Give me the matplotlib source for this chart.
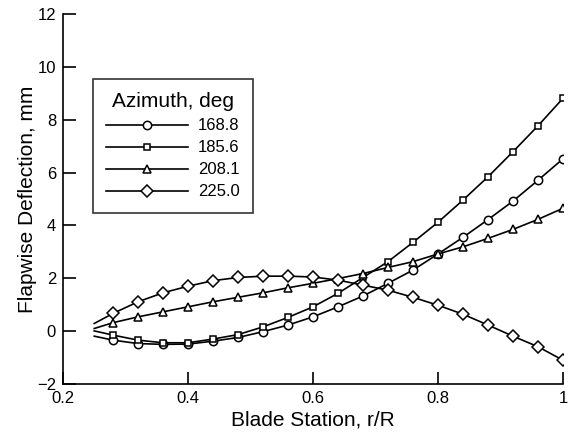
import matplotlib
matplotlib.use("Agg")
import matplotlib.pyplot as plt

plt.rcParams['font.family'] = ['Liberation Sans', 'DejaVu Sans']

# blade station r/R (first point has no marker)
r = [0.25, 0.28, 0.32, 0.36, 0.40, 0.44, 0.48, 0.52, 0.56, 0.60,
     0.64, 0.68, 0.72, 0.76, 0.80, 0.84, 0.88, 0.92, 0.96, 1.00]

# flapwise deflection, mm
az_168 = [-0.19, -0.34, -0.47, -0.50, -0.49, -0.38, -0.24, -0.02, 0.23, 0.54,
          0.92, 1.33, 1.81, 2.31, 2.92, 3.55, 4.22, 4.92, 5.71, 6.52]
az_185 = [0.01, -0.15, -0.34, -0.44, -0.44, -0.30, -0.13, 0.16, 0.52, 0.92,
          1.43, 2.03, 2.63, 3.36, 4.12, 4.96, 5.84, 6.79, 7.77, 8.81]
az_208 = [0.10, 0.32, 0.54, 0.73, 0.92, 1.11, 1.28, 1.45, 1.64, 1.81,
          1.99, 2.18, 2.41, 2.63, 2.92, 3.19, 3.51, 3.85, 4.23, 4.65]
az_225 = [0.29, 0.67, 1.11, 1.45, 1.70, 1.91, 2.03, 2.08, 2.08, 2.05,
          1.93, 1.74, 1.55, 1.28, 0.98, 0.64, 0.23, -0.19, -0.59, -1.10]

labels = ['168.8', '185.6', '208.1', '225.0']
markers = ['o', 's', '^', 'D']
sizes = [6, 5, 6, 6.5]

fig = plt.figure(figsize=(5.68, 4.34), dpi=100)
ax = fig.add_axes([63/568, 1 - 384/434, 500/568, 370/434])

for y, lab, m, ms in zip([az_168, az_185, az_208, az_225], labels, markers, sizes):
    ax.plot(r, y, color='black', lw=1.2, marker=m, ms=ms, mfc='white',
            mec='black', mew=1.1, markevery=slice(1, None), label=lab)

ax.set_xlim(0.2, 1.0)
ax.set_ylim(-2, 12)
ax.set_xticks([0.2, 0.4, 0.6, 0.8, 1.0])
ax.set_xticklabels(['0.2', '0.4', '0.6', '0.8', '1'])
ax.set_yticks(range(-2, 13, 2))
ax.tick_params(direction='in', length=9, width=1.2, labelsize=12, pad=5)
ax.spines['top'].set_visible(False)
ax.spines['right'].set_visible(False)
ax.spines['left'].set_linewidth(1.2)
ax.spines['bottom'].set_linewidth(1.2)

ax.set_xlabel('Blade Station, r/R', fontsize=15, labelpad=3)
ax.set_ylabel('Flapwise Deflection, mm', fontsize=15, labelpad=0)

leg = ax.legend(title='Azimuth, deg', loc='upper left', bbox_to_anchor=(0.06, 0.824),
                fontsize=12, title_fontsize=15, numpoints=1, handlelength=4.9,
                frameon=True, fancybox=False, edgecolor='black',
                borderpad=0.8, labelspacing=0.42, handletextpad=0.6,
                borderaxespad=0)
leg.get_frame().set_linewidth(1.2)

fig.savefig('out.png', dpi=100)
